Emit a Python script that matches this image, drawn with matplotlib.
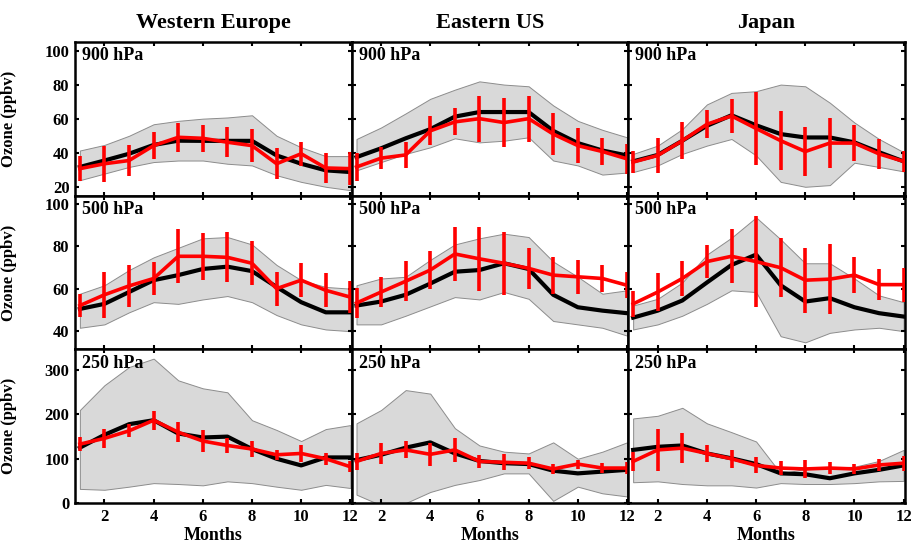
import numpy as np
import matplotlib
matplotlib.use("Agg")
import matplotlib.pyplot as plt

plt.rcParams['font.family'] = ['Liberation Serif', 'DejaVu Serif']
plt.rcParams['font.weight'] = 'bold'

months = [1, 2, 3, 4, 5, 6, 7, 8, 9, 10, 11, 12]
regions = ["Western Europe", "Eastern US", "Japan"]
levels = ["900 hPa", "500 hPa", "250 hPa"]

# ---- Western Europe ----
we900_model = [31.6, 35.4, 39.4, 44.6, 47.1, 47, 47, 47, 38.4, 33.5, 29.6, 28.6]
we900_lo = [23.8, 27.7, 31.6, 34.5, 35.4, 35.4, 33.5, 32.5, 26.7, 22.8, 19.9, 17.9]
we900_hi = [41.3, 44.6, 50, 56.8, 58.8, 60.1, 60.8, 62.1, 50, 43.2, 38, 38]
we900_obs = [30.6, 33.5, 35.4, 44.2, 49.1, 48.5, 46.2, 44.2, 33.5, 39.4, 31, 30.6]
we900_err = [7.3, 10.7, 9.2, 7.8, 8.7, 7.8, 9, 9.7, 9.2, 7.1, 8.7, 9.7]

we500_model = [50.4, 52.8, 58.4, 64, 66.4, 69.3, 70.4, 68.3, 60.8, 53.6, 48.8, 48.8]
we500_lo = [41.5, 43.1, 48.8, 53.6, 52.8, 54.9, 56.5, 53.6, 47.5, 43.1, 40.7, 39.9]
we500_hi = [57.6, 61.6, 68.8, 74.8, 79.3, 83.8, 84.4, 80.9, 71.2, 64, 60.8, 60]
we500_obs = [52, 57.1, 61.3, 64.8, 75.3, 75.3, 74.8, 72, 60, 64, 59.2, 56]
we500_err = [5.6, 10.8, 9.9, 7.6, 12.8, 11.2, 11.8, 10.4, 8, 8, 8, 7.6]

we250_model = [125, 154, 178, 187, 157, 148, 150, 122, 100, 85, 103, 103]
we250_lo = [32, 30, 37, 45, 43, 40, 49, 45, 37, 30, 41, 34]
we250_hi = [210, 266, 307, 326, 277, 259, 250, 187, 165, 140, 167, 176]
we250_obs = [133, 146, 163, 187, 160, 140, 130, 122, 109, 112, 100, 82]
we250_err = [16, 22, 15, 21, 22, 25, 17, 19, 11, 20, 14, 13]

# ---- Eastern US ----
eus900_model = [37.4, 42.6, 48.5, 53.9, 61.3, 64, 64, 64, 52.9, 45.7, 41.3, 38.4]
eus900_lo = [29.6, 34.5, 39.3, 43.2, 48.5, 46.1, 47.1, 49.1, 35.4, 32.5, 27.1, 28.3]
eus900_hi = [48.1, 54.9, 63.2, 71.8, 77.2, 82.1, 80.2, 79.2, 67.9, 58.8, 53.5, 49.1]
eus900_obs = [31.6, 36.8, 38.7, 52.9, 58.2, 60.1, 57.8, 60.1, 51, 44.2, 40.7, 36.4]
eus900_err = [8.3, 6.5, 7.8, 8.6, 8, 13.6, 14.3, 13.6, 12.2, 10.5, 8.1, 9]

eus500_model = [52, 53.9, 57.1, 62.4, 68, 68.8, 72, 69.3, 57.1, 51.2, 49.6, 48.4]
eus500_lo = [43.1, 43.1, 47.2, 51.6, 56, 54.9, 58.4, 55.2, 44.7, 43.1, 41.5, 37.8]
eus500_hi = [61.6, 64.8, 65.6, 73.6, 80.9, 83.8, 86, 84.4, 72.8, 65.6, 57.6, 59.2]
eus500_obs = [53.2, 58.4, 63.5, 68.8, 76.4, 74.1, 72, 69.6, 66.4, 65.6, 64.8, 61.6]
eus500_err = [7.1, 7.2, 9.4, 9, 12.8, 15, 15, 9.8, 8.8, 8, 6.4, 6.2]

eus250_model = [97, 109, 125, 137, 112, 95, 90, 88, 73, 67, 71, 75]
eus250_lo = [19, -5, 0, 25, 41, 52, 67, 67, 5, 37, 22, 15]
eus250_hi = [180, 210, 255, 247, 169, 130, 116, 112, 137, 100, 116, 137]
eus250_obs = [94, 112, 120, 110, 120, 94, 92, 90, 77, 88, 79, 79]
eus250_err = [19, 24, 19, 26, 27, 15, 18, 14, 12, 10, 11, 13]

# ---- Japan ----
jp900_model = [34.9, 38.7, 47.1, 55.9, 62.1, 56.2, 51, 49, 49, 46.1, 40.3, 34.9]
jp900_lo = [28.6, 32.5, 39.3, 44.2, 48.1, 38.4, 22.8, 19.9, 20.9, 34.1, 31.6, 29]
jp900_hi = [39.3, 44.2, 53.9, 68.5, 75.3, 76.3, 80.2, 79.2, 69.5, 57.8, 48.1, 40.3]
jp900_obs = [34.5, 38.4, 47.1, 56.8, 61.7, 54.3, 47.1, 40.7, 45.7, 45.7, 39.3, 34.9]
jp900_err = [6.3, 10.5, 10.9, 8.4, 9.9, 21.4, 17.5, 14.3, 14.6, 10.5, 8.9, 6.1]

jp500_model = [46.3, 49.6, 54.4, 62.9, 71.2, 76.1, 61.6, 53.9, 55.5, 51.2, 48.4, 46.8]
jp500_lo = [40.7, 43.1, 47.2, 52.8, 59.2, 58.4, 37.5, 34.6, 39.1, 40.7, 41.5, 39.9]
jp500_hi = [52, 55.2, 62.9, 76.1, 84.1, 93.7, 83.3, 72, 72, 64.8, 56.8, 53.6]
jp500_obs = [52.8, 58.4, 64.8, 72.8, 75.3, 72.8, 69.9, 64, 64.5, 66.4, 61.9, 61.9]
jp500_err = [6, 8.8, 8.3, 7.8, 12.8, 21.4, 14, 15.4, 16.6, 8.6, 7.2, 8]

jp250_model = [120, 127, 130, 112, 101, 88, 67, 65, 56, 67, 75, 85]
jp250_lo = [47, 49, 43, 40, 40, 35, 45, 43, 43, 45, 49, 50]
jp250_hi = [191, 197, 215, 180, 160, 139, 67, 77, 80, 82, 95, 120]
jp250_obs = [94, 120, 124, 112, 100, 85, 79, 77, 79, 77, 86, 90]
jp250_err = [22, 47, 34, 20, 20, 18, 16, 21, 13, 12, 14, 17]

ylims = [(14.7, 105.4), (31.3, 104), (0, 347)]
yticks = [[20, 40, 60, 80, 100], [40, 60, 80, 100], [0, 100, 200, 300]]
xticks = [2, 4, 6, 8, 10, 12]

table = [
    [(we900_model, we900_lo, we900_hi, we900_obs, we900_err),
     (eus900_model, eus900_lo, eus900_hi, eus900_obs, eus900_err),
     (jp900_model, jp900_lo, jp900_hi, jp900_obs, jp900_err)],
    [(we500_model, we500_lo, we500_hi, we500_obs, we500_err),
     (eus500_model, eus500_lo, eus500_hi, eus500_obs, eus500_err),
     (jp500_model, jp500_lo, jp500_hi, jp500_obs, jp500_err)],
    [(we250_model, we250_lo, we250_hi, we250_obs, we250_err),
     (eus250_model, eus250_lo, eus250_hi, eus250_obs, eus250_err),
     (jp250_model, jp250_lo, jp250_hi, jp250_obs, jp250_err)],
]

fig, axes = plt.subplots(3, 3, figsize=(9.14, 5.51), dpi=100)
fig.subplots_adjust(left=0.082, right=0.990, top=0.924, bottom=0.087,
                    wspace=0, hspace=0)

for r in range(3):
    for c in range(3):
        ax = axes[r, c]
        model, lo, hi, obs, err = table[r][c]
        ax.fill_between(months, lo, hi, facecolor='#d9d9d9',
                        edgecolor='#8c8c8c', linewidth=0.7, zorder=1)
        ax.plot(months, model, color='black', lw=3.0, zorder=2,
                solid_joinstyle='round')
        ax.errorbar(months, obs, yerr=err, color='#ff0000', lw=2.6,
                    elinewidth=2.6, capsize=0, zorder=3)
        ax.set_xlim(0.8, 12.05)
        ax.set_ylim(*ylims[r])
        ax.set_xticks(xticks)
        ax.set_yticks(yticks[r])
        ax.tick_params(direction='in', top=True, right=True, length=3,
                       width=1.5, labelsize=12, pad=4)
        for s in ax.spines.values():
            s.set_linewidth(1.8)
        if c != 0:
            ax.set_yticklabels([])
        else:
            ax.set_ylabel("Ozone (ppbv)", fontsize=12, fontweight='bold')
            ax.yaxis.set_label_coords(-0.21, 0.5)
        if r != 2:
            ax.set_xticklabels([])
        else:
            ax.set_xlabel("Months", fontsize=13, fontweight='bold', labelpad=2)
        if r == 0:
            ax.set_title(regions[c], fontsize=16, fontweight='bold', pad=10)
        ax.text(0.025, 0.965, levels[r], transform=ax.transAxes,
                ha='left', va='top', fontsize=13, fontweight='bold', zorder=5)
        for lab in ax.get_xticklabels() + ax.get_yticklabels():
            lab.set_fontweight('bold')

fig.savefig("out.png", dpi=100)
